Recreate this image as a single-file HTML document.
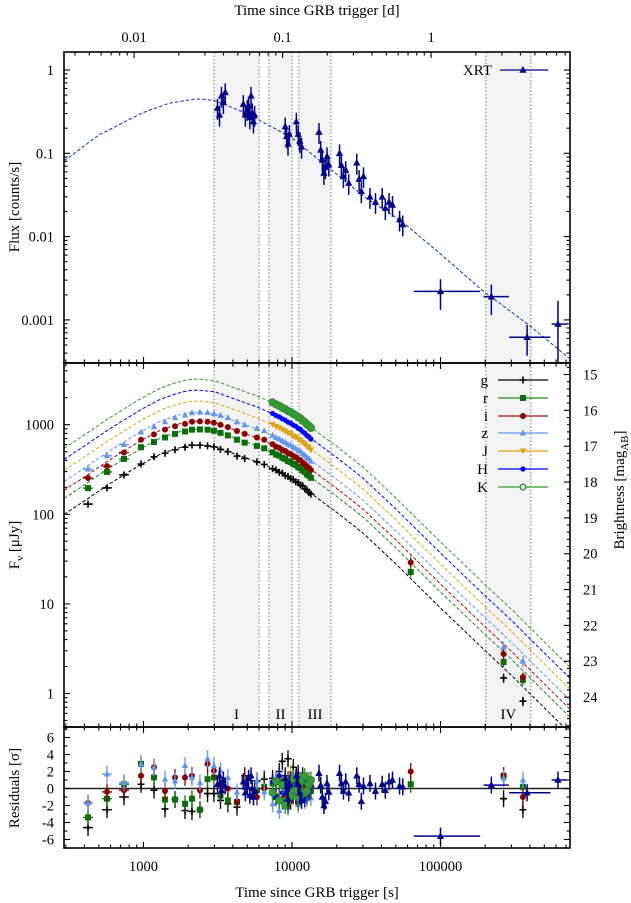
<!DOCTYPE html>
<html><head><meta charset="utf-8"><style>
html,body{margin:0;padding:0;background:#fff}
svg{display:block;font-family:"Liberation Serif",serif}
</style></head><body>
<svg id="c" width="631" height="903" viewBox="0 0 631 903" xmlns="http://www.w3.org/2000/svg">
<defs>
<clipPath id="cpT"><rect x="64" y="52" width="506" height="311"/></clipPath>
<clipPath id="cpM"><rect x="64" y="363" width="506" height="364"/></clipPath>
<clipPath id="cpR"><rect x="64" y="727" width="506" height="121"/></clipPath>
</defs>
<g id="bg"></g>
<g id="shade"></g>
<g id="models"></g>
<g id="pts"></g>
<g id="axes"></g>
<g id="legend"></g>
<text x="317" y="15" text-anchor="middle" font-size="15">Time since GRB trigger [d]</text>
<text x="317" y="897" text-anchor="middle" font-size="15">Time since GRB trigger [s]</text>
<text transform="translate(19,207) rotate(-90)" text-anchor="middle" font-size="15">Flux [counts/s]</text>
<text transform="translate(19,545) rotate(-90)" text-anchor="middle" font-size="15">F<tspan font-size="11" dy="4">ν</tspan><tspan dy="-4"> [μJy]</tspan></text>
<text transform="translate(19,788) rotate(-90)" text-anchor="middle" font-size="15">Residuals [σ]</text>
<text transform="translate(624,490) rotate(-90)" text-anchor="middle" font-size="15">Brightness [mag<tspan font-size="11" dy="4">AB</tspan><tspan dy="-4">]</tspan></text>
</svg>
<script>
// ---------- data ----------
const modelT = [292,423,568,739,962,1300,1600,1900,2100,2400,3000,4300,5800,7200,9800,12600,20000,30000,50000,100000,200000,300000,745000];
const modelG = [100,150,210,275,360,470,530,575,590,590,570,460,385,330,255,185,105,62,28,9,3.0,1.6,0.36];
const bandNames = ['g','r','i','z','J','H','K'];
const bandScale = [1,1.51,1.85,2.33,3.10,4.1,5.45];
const xrtModelT = [292,500,1000,1500,2100,2400,3000,5000,10000,15000,30000,55600,76000,100000,189000,400000,745000];
const xrtModelF = [0.081,0.166,0.31,0.40,0.44,0.45,0.43,0.30,0.153,0.085,0.031,0.015,0.0093,0.0062,0.0023,0.00085,0.00034];

const earlyT = [423,568,739,962,1177,1396,1630,1904,2120,2400,2700,2980,3300,3700,4260,4800,5810,6500];
const gEarly = [130,197,275,364,437,480,525,560,593,590,580,567,530,500,446,420,385,360];
const rEarly = [196,297,415,560,640,720,790,840,880,885,880,855,810,760,680,630,580,545];
const iEarly = [254,345,490,680,780,880,960,1020,1080,1090,1080,1050,1000,940,850,790,720,680];
const zEarly = [320,450,600,830,950,1080,1200,1280,1360,1380,1370,1330,1270,1200,1080,1000,910,860];

const denseT = [7400,7800,8200,8600,9000,9400,9800,10200,10600,11000,11400,11800,12200,12600,13000,13400];
const gDense = [322,312,295,288,270,265,250,245,230,226,212,208,192,188,175,168];
const rDense = [492,465,452,428,415,392,383,365,355,336,326,308,297,279,270,255];
const iDense = [605,570,552,524,508,482,470,447,434,411,400,376,363,342,331,312];
const zDense = [760,718,695,660,640,605,592,562,546,518,504,474,457,430,418,392];
const JDense = [1010,955,925,880,850,808,788,748,726,690,670,632,608,572,556,522];
const HDense = [1335,1265,1222,1163,1124,1068,1042,990,960,912,886,836,804,757,734,692];
const KDense = [1775,1685,1625,1545,1495,1420,1385,1318,1276,1212,1178,1110,1068,1008,975,920];

const lateT = [63000,266000,359000];
const gLate = [null,1.49,0.82];
const rLate = [22.7,2.25,1.42];
const iLate = [29,2.76,1.53];
const zLate = [30,3.3,2.3];

const gResE = [-4.6,-2.5,-1.0,0.5,-0.2,-2.4,-1.3,-2.6,-2.7,-2.5,-0.6,-0.6,-1.4,-1.8,-2.2,1.5,0.9,1.1];
const rResE = [-3.4,-1.2,0.5,2.9,1.3,-1.3,-1.3,-1.8,-1.2,-2.5,1.1,1.3,-0.8,-1.4,-1.6,0.9,-0.2,0.2];
const iResE = [-1.7,-0.4,-0.2,1.5,2.5,-0.3,1.3,1.3,1.5,-0.2,2.9,2.1,0.4,0.0,-1.5,1.3,-1.0,0.0];
const zResE = [-1.7,1.7,0.7,2.9,2.5,1.1,0.9,2.7,1.3,0.7,3.5,2.7,2.1,1.3,-0.4,0.5,0.9,-0.4];
const gResD = [1.2,0.5,2.0,3.2,1.5,3.5,1.0,2.5,0.8,1.8,-0.5,1.5,0.4,-0.6,0.9,0.2];
const rResD = [0.6,-1.0,0.8,-1.5,0.3,-2.0,0.4,-0.8,1.2,-1.6,0.5,-0.4,1.0,-0.9,0.2,-0.3];
const iResD = [-0.5,0.8,-1.2,0.5,-0.8,1.0,-1.5,0.6,-0.4,1.1,-0.9,0.3,-0.6,0.8,-0.2,0.4];
const zResD = [-1.8,-0.6,-2.6,0.4,-1.2,-2.2,0.8,-1.0,-0.3,-1.9,0.5,-0.8,-1.4,0.2,-0.6,-1.1];
const JResD = [0.5,-0.8,1.2,-1.5,0.9,-0.4,1.8,-1.0,0.6,-1.8,1.0,-0.5,0.3,-1.2,0.8,-0.2];
const HResD = [0.8,-1.0,1.5,-0.5,0.2,-1.6,1.0,0.4,-0.8,1.2,-0.3,0.6,-1.2,0.9,-0.4,0.3];
const KResD = [-0.5,0.9,-1.4,0.4,-2.0,0.6,-0.9,1.2,-0.2,-1.0,0.8,-0.6,1.4,-0.3,0.5,1.0];
const gResL = [null,-1.2,-2.5];
const rResL = [0.5,1.5,0.2];
const iResL = [2.0,1.5,-1.0];
const zResL = [null,1.2,1.0];

const xrtT = [3150,3250,3350,3450,3550,4700,4850,5000,5100,5200,5300,5400,5500,5600,9000,9200,9400,9600,10700,11000,11300,11600,15200,15600,16000,16400,16800,17200,17700,20900,21500,22200,23000,24100,27300,28300,29300,30300,33500,36500,40500,42500,45000,47500,53000,55700,100000,220000,383000,618000];
const xrtF = [0.35,0.29,0.49,0.41,0.54,0.39,0.29,0.34,0.37,0.27,0.49,0.31,0.24,0.29,0.21,0.16,0.13,0.17,0.24,0.17,0.14,0.12,0.18,0.11,0.083,0.058,0.068,0.092,0.073,0.10,0.072,0.053,0.063,0.044,0.077,0.049,0.035,0.053,0.030,0.026,0.030,0.022,0.026,0.024,0.016,0.014,0.0022,0.0019,0.00062,0.00089];
const xrtRes = [0.5,1.5,-0.2,1.0,0.3,0.8,-0.5,0.2,1.2,-0.8,1.5,0.0,-1.0,-0.3,1.2,0.2,-1.2,0.6,1.5,0.5,-0.5,-1.4,1.8,0.4,-1.0,-2.0,-1.5,0.6,-0.4,1.8,0.6,-0.3,0.8,-0.5,1.5,0.5,-1.5,0.3,0.6,-0.3,0.5,-0.2,0.8,1.0,0.3,0.2,-5.6,0.4,-0.5,1.0];
const xrtLo = [null,null,null,null,null,null,null,null,null,null,null,null,null,null,null,null,null,null,null,null,null,null,null,null,null,null,null,null,null,null,null,null,null,null,null,null,null,null,null,null,null,null,null,null,null,null,66000,195000,290000,560000];
const xrtHi = [null,null,null,null,null,null,null,null,null,null,null,null,null,null,null,null,null,null,null,null,null,null,null,null,null,null,null,null,null,null,null,null,null,null,null,null,null,null,null,null,null,null,null,null,null,null,185000,289000,550000,710000];

const epochLabels = ['I','II','III','IV'];
const epochStart = [2985,7000,11140,202000];
const epochEnd = [5995,10000,18300,406000];

// ---------- helpers ----------
const NS='http://www.w3.org/2000/svg';
const L=Math.log10;
const X=t=>143.5+148.5*(L(t)-3);
const YT=f=>70-83.3*L(f);
const YM=f=>693.5-89.6*L(f);
const YR=r=>788.5-8.5*r;
function mk(tag,attrs,parent){const e=document.createElementNS(NS,tag);for(const k in attrs)e.setAttribute(k,attrs[k]);parent.appendChild(e);return e;}
const $=id=>document.getElementById(id);
const cols={g:'#000000',r:'#0a6e0a',i:'#8b0000',z:'#6495ed',J:'#e0a41a',H:'#0000ff',K:'#2a922a'};
const lineCols={g:'#000000',r:'#1f8a1f',i:'#a01010',z:'#6495ed',J:'#e0a41a',H:'#0000ff',K:'#2f9a2f'};
const XRTC='#00008b';

// ---------- shading ----------
const sh=$('shade');
for(let k=0;k<epochStart.length;k++){
  const x1=X(epochStart[k]),x2=X(epochEnd[k]);
  const r1=mk('rect',{x:x1,y:52,width:x2-x1,height:675,fill:'#f3f3f3'},sh);
  
  
  [x1,x2].forEach(x=>{const l=mk('line',{x1:x,x2:x,y1:52,y2:727,stroke:'#777','stroke-width':1,'stroke-dasharray':'1.5,2'},sh);
    
    });
  const tx=mk('text',{x:(x1+x2)/2,y:719,'text-anchor':'middle','font-size':15},sh);
  tx.textContent=epochLabels[k];
  
  
}

// ---------- models ----------
const mg=$('models');
function interp(T,F,t){
  for(let k=0;k<T.length-1;k++){if(t<=T[k+1]){const a=(L(t)-L(T[k]))/(L(T[k+1])-L(T[k]));return Math.pow(10,L(F[k])+a*(L(F[k+1])-L(F[k])));}}
  return F[F.length-1];
}
function modelPath(T,F,scale,Y){
  let d='';
  for(let lt=L(T[0]);lt<=L(T[T.length-1])+1e-9;lt+=0.01){const t=Math.pow(10,lt);d+=(d?'L':'M')+X(t).toFixed(1)+','+Y(interp(T,F,t)*scale).toFixed(1);}
  return d;
}
const gM=mk('g',{'clip-path':'url(#cpM)'},mg);
bandNames.forEach((b,k)=>{
  const p=mk('path',{d:modelPath(modelT,modelG,bandScale[k],YM),fill:'none',stroke:lineCols[b],'stroke-width':1,'stroke-dasharray':'3.5,2'},gM);
  
  
});
const gT=mk('g',{'clip-path':'url(#cpT)'},mg);
const xp=mk('path',{d:modelPath(xrtModelT,xrtModelF,1,YT),fill:'none',stroke:'#2030a0','stroke-width':1,'stroke-dasharray':'3.5,2'},gT);


const gR=mk('g',{'clip-path':'url(#cpR)'},mg);
const zl=mk('line',{x1:64,x2:570,y1:YR(0),y2:YR(0),stroke:'#222','stroke-width':1.4},gR);



// ---------- markers ----------
function marker(b,x,y,parent,legend){
  const c=cols[b];let e;
  if(b==='g'){e=mk('path',{d:`M${x-3.5},${y}H${x+3.5}M${x},${y-3.5}V${y+3.5}`,stroke:c,'stroke-width':1.6},parent);}
  else if(b==='r'){e=mk('rect',{x:x-3,y:y-3,width:6,height:6,fill:c},parent);}
  else if(b==='i'){e=mk('circle',{cx:x,cy:y,r:3,fill:c},parent);}
  else if(b==='z'){e=mk('path',{d:`M${x},${y-3.5}L${x+3.2},${y+2.5}L${x-3.2},${y+2.5}Z`,fill:c},parent);}
  else if(b==='J'){e=mk('path',{d:`M${x},${y+3.5}L${x+3.2},${y-2.5}L${x-3.2},${y-2.5}Z`,fill:c},parent);}
  else if(b==='H'){e=mk('circle',{cx:x,cy:y,r:2.6,fill:c},parent);}
  else if(b==='K'){e=legend?mk('circle',{cx:x,cy:y,r:2.8,fill:'#fff',stroke:c,'stroke-width':1.3},parent):mk('circle',{cx:x,cy:y,r:3.6,fill:'#3a9a3a',stroke:c,'stroke-width':1},parent);}
  else {e=mk('path',{d:`M${x},${y-4}L${x+3.6},${y+2.8}L${x-3.6},${y+2.8}Z`,fill:XRTC},parent);}
  return e;
}
function errV(x,y1,y2,c,parent,w){mk('line',{x1:x,x2:x,y1:y1,y2:y2,stroke:c,'stroke-width':w||1.3},parent);}
function errH(x1,x2,y,c,parent,w){mk('line',{x1:x1,x2:x2,y1:y,y2:y,stroke:c,'stroke-width':w||1.3},parent);}

const P=$('pts');
const pM=mk('g',{'clip-path':'url(#cpM)'},P);
const pT=mk('g',{'clip-path':'url(#cpT)'},P);
const pR=mk('g',{'clip-path':'url(#cpR)'},P);

function plotBand(b,T,F,rel){
  T.forEach((t,k)=>{
    if(F[k]==null)return;
    const x=X(t),y=YM(F[k]);
    errV(x,YM(F[k]*(1+rel)),YM(F[k]*(1-rel)),cols[b],pM);
    if(t<800)errH(x-5,x+5,y,cols[b],pM);
    const m=marker(b,x,y,pM);
    
    
  });
}
function plotRes(b,T,R){
  T.forEach((t,k)=>{
    if(R[k]==null)return;
    const x=X(t),y=YR(R[k]);
    errV(x,y-8.5,y+8.5,cols[b],pR);
    if(t<800)errH(x-5,x+5,y,cols[b],pR);
    const m=marker(b,x,y,pR);
    
    
  });
}
plotBand('g',earlyT,gEarly,0.05);plotBand('r',earlyT,rEarly,0.05);plotBand('i',earlyT,iEarly,0.05);plotBand('z',earlyT,zEarly,0.05);
plotBand('g',denseT,gDense,0.03);plotBand('r',denseT,rDense,0.03);plotBand('i',denseT,iDense,0.03);plotBand('z',denseT,zDense,0.03);
plotBand('J',denseT,JDense,0.03);plotBand('H',denseT,HDense,0.03);plotBand('K',denseT,KDense,0.03);
plotBand('g',lateT,gLate,0.12);plotBand('z',lateT,zLate,0.15);plotBand('r',lateT,rLate,0.12);plotBand('i',lateT,iLate,0.12);
plotRes('g',earlyT,gResE);plotRes('r',earlyT,rResE);plotRes('i',earlyT,iResE);plotRes('z',earlyT,zResE);
plotRes('g',denseT,gResD);plotRes('z',denseT,zResD);plotRes('J',denseT,JResD);plotRes('r',denseT,rResD);plotRes('i',denseT,iResD);plotRes('H',denseT,HResD);plotRes('K',denseT,KResD);
plotRes('g',lateT,gResL);plotRes('r',lateT,rResL);plotRes('i',lateT,iResL);plotRes('z',lateT,zResL);
xrtT.forEach((t,k)=>{
  const x=X(t),y=YT(xrtF[k]);
  const late=xrtLo[k]!=null;
  const rel=late?(k===xrtT.length-1?0.9:0.4):0.28;
  errV(x,YT(xrtF[k]*(1+rel)),YT(Math.max(xrtF[k]*(1-rel),1e-6)),XRTC,pT,1.5);
  if(late)errH(X(xrtLo[k]),X(xrtHi[k]),y,XRTC,pT,1.5);else errH(x-1.5,x+1.5,y,XRTC,pT,1.5);
  const m=marker('X',x,y,pT);
  
  
  const yr=YR(xrtRes[k]);
  errV(x,yr-8.5,yr+8.5,XRTC,pR,1.5);
  if(late)errH(X(xrtLo[k]),X(xrtHi[k]),yr,XRTC,pR,1.5);
  const m2=marker('X',x,yr,pR);
  
  
});

// ---------- axes ----------
const A=$('axes');
const frames=[[52,363,'top-panel-frame'],[363,727,'flux-panel-frame'],[727,848,'residual-panel-frame']];
frames.forEach(f=>{const r=mk('rect',{x:64,y:f[0],width:506,height:f[1]-f[0],fill:'none',stroke:'#000','stroke-width':1.6},A);
  
  });
function tick(x1,y1,x2,y2){mk('line',{x1,y1,x2,y2,stroke:'#000','stroke-width':1.1},A);}
function label(x,y,s,anchor,name){const t=mk('text',{x,y,'text-anchor':anchor,'font-size':14.5},A);t.textContent=s;
  
  }
const xMajors=[1000,10000,100000];
const xLabels=['1000','10000','100000'];
for(let d=2;d<=5;d++)for(let m=1;m<=9;m++){
  const t=m*Math.pow(10,d);const x=X(t);if(x<64||x>570)continue;
  const len=m===1?6:3.5;
  tick(x,363,x,363-len);tick(x,363,x,363+len);
  tick(x,727,x,727-len);tick(x,727,x,727+len);
  tick(x,848,x,848-len);
}
xMajors.forEach((t,k)=>label(X(t),871,xLabels[k],'middle','x-tick-label'));
const dayTicksLab=['0.01','0.1','1'];
for(let d=-3;d<=1;d++)for(let m=1;m<=9;m++){
  const td=m*Math.pow(10,d);const x=X(td*86400);if(x<64||x>570)continue;
  tick(x,52,x,52+(m===1?6:3.5));
}
[0.01,0.1,1].forEach((v,k)=>label(X(v*86400),42,dayTicksLab[k],'middle','top-x-tick-label'));
for(let d=-4;d<=0;d++)for(let m=1;m<=9;m++){
  const f=m*Math.pow(10,d);const y=YT(f);if(y<52||y>363)continue;
  const len=m===1?6:3.5;tick(64,y,64+len,y);tick(570,y,570-len,y);
}
['1','0.1','0.01','0.001'].forEach((s,k)=>label(54,YT(Math.pow(10,-k))+5,s,'end','xrt-y-tick-label'));
for(let d=-1;d<=3;d++)for(let m=1;m<=9;m++){
  const f=m*Math.pow(10,d);const y=YM(f);if(y<363||y>727)continue;
  tick(64,y,64+(m===1?6:3.5),y);
}
['1','10','100','1000'].forEach((s,k)=>label(54,YM(Math.pow(10,k))+5,s,'end','flux-y-tick-label'));
for(let m=14.6;m<=25;m+=0.2){
  const y=YM(Math.pow(10,(23.9-m)/2.5));if(y<363||y>727)continue;
  const major=Math.abs(m-Math.round(m))<0.01;
  tick(570,y,570-(major?6:3),y);
}
for(let m=15;m<=24;m++){const y=YM(Math.pow(10,(23.9-m)/2.5));label(583,y+5,String(m),'start','magnitude-tick-label');}
for(let r=-7;r<=7;r++){const y=YR(r);if(y<727||y>848)continue;const len=r%2===0?6:3.5;tick(64,y,64+len,y);tick(570,y,570-len,y);}
[6,4,2,0,-2,-4,-6].forEach(r=>label(54,YR(r)+5,String(r),'end','residual-y-tick-label'));

// ---------- legend ----------
const G=$('legend');
const legY=[380,398,416,433,451,469,487];
bandNames.forEach((b,k)=>{
  const y=legY[k];
  const t=mk('text',{x:488,y:y+5,'text-anchor':'end','font-size':15},G);t.textContent=b;
  
  
  const l=mk('line',{x1:498,x2:548,y1:y,y2:y,stroke:lineCols[b],'stroke-width':1.3},G);
  
  
  const m=marker(b,523,y,G,true);
  
  
});
const xt=mk('text',{x:492,y:75,'text-anchor':'end','font-size':15},G);xt.textContent='XRT';


const xl=mk('line',{x1:500,x2:548,y1:70,y2:70,stroke:XRTC,'stroke-width':1.3},G);


const xm=marker('X',523,70,G);


</script>
</body></html>
